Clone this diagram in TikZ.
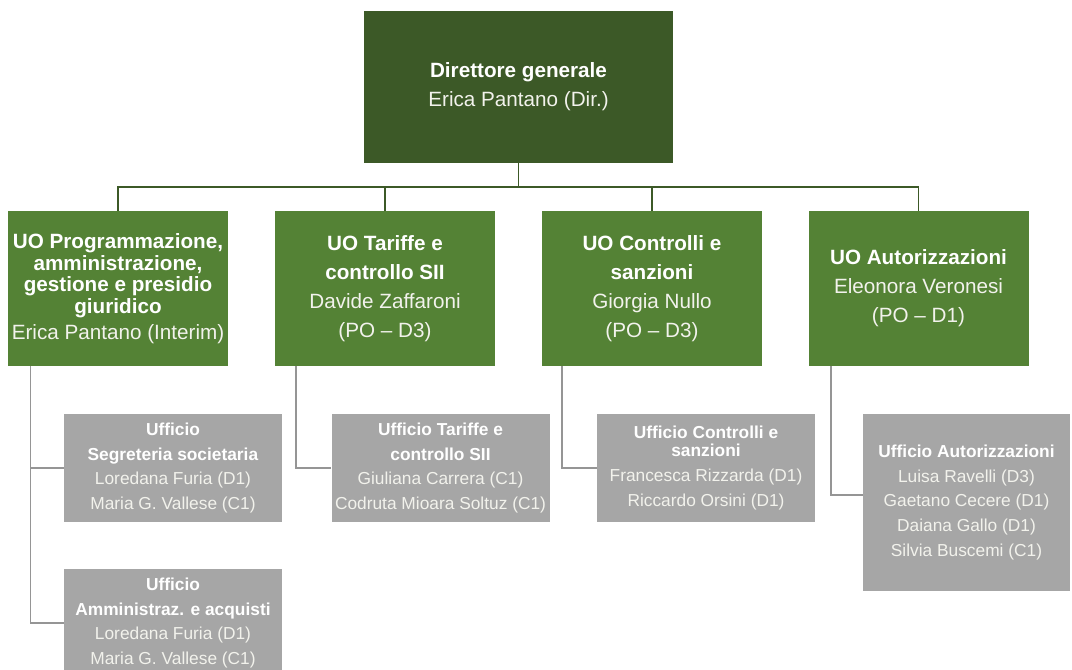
\documentclass[tikz,border=0pt]{standalone}
\usepackage{fontspec}
\setmainfont{Liberation Sans}
\definecolor{dirgreen}{RGB}{60,89,39}
\definecolor{uogreen}{RGB}{84,130,53}
\definecolor{ufgray}{RGB}{166,166,166}
\definecolor{namewhite}{RGB}{242,242,236}

\begin{document}
\begin{tikzpicture}[x=0.75pt,y=-0.75pt]

\tikzset{dirbox/.style = {fill=dirgreen, text=white, align=center, inner sep=0pt,
  minimum width=231.75pt, minimum height=114pt, font=\fontsize{15.5}{21.75}\selectfont}}
\tikzset{uobox/.style = {fill=uogreen, text=white, align=center, inner sep=0pt,
  minimum width=165pt, minimum height=116.25pt, font=\fontsize{15.5}{21.75}\selectfont}}
\tikzset{ufbox/.style = {fill=ufgray, text=white, align=center, inner sep=0pt,
  minimum width=163.5pt, minimum height=81pt, font=\fontsize{13}{18.4}\selectfont}}
\tikzset{greenline/.style = {draw=dirgreen, line width=1.4pt}}
\tikzset{grayline/.style = {draw=ufgray!90!black, line width=1.2pt}}
\newcommand{\nm}[1]{\textcolor{namewhite}{#1}}

\useasboundingbox (0,0) rectangle (1072,670);

%direttore
\node[dirbox] (dir) at (518.5,87) {\textbf{Direttore generale}\\\nm{Erica Pantano (Dir.)}};
%unita' organizzative
\node[uobox, font=\fontsize{15.5}{16.3}\selectfont] (uo1) at (118,288.5)
  {\textbf{UO Programmazione,}\\\textbf{amministrazione,}\\\textbf{gestione e presidio}\\\textbf{giuridico}\\[3pt]\nm{Erica Pantano (Interim)}};
\node[uobox] (uo2) at (385,288.5) {\textbf{UO Tariffe e}\\\textbf{controllo SII}\\\nm{Davide Zaffaroni}\\\nm{(PO -- D3)}};
\node[uobox] (uo3) at (652,288.5) {\textbf{UO Controlli e}\\\textbf{sanzioni}\\\nm{Giorgia Nullo}\\\nm{(PO -- D3)}};
\node[uobox] (uo4) at (918.5,288.5) {\textbf{UO Autorizzazioni}\\\nm{Eleonora Veronesi}\\\nm{(PO -- D1)}};
%uffici
\node[ufbox] (uf1) at (173,468) {\textbf{Ufficio}\\\textbf{Segreteria societaria}\\\nm{Loredana Furia (D1)}\\\nm{Maria G. Vallese (C1)}};
\node[ufbox] (uf5) at (173,623) {\textbf{Ufficio}\\\textbf{Amministraz. e acquisti}\\\nm{Loredana Furia (D1)}\\\nm{Maria G. Vallese (C1)}};
\node[ufbox] (uf2) at (440.5,468) {\textbf{Ufficio Tariffe e}\\\textbf{controllo SII}\\\nm{Giuliana Carrera (C1)}\\\nm{Codruta Mioara Soltuz (C1)}};
\node[ufbox, font=\fontsize{13}{13.5}\selectfont] (uf3) at (706,468)
  {\textbf{Ufficio Controlli e}\\\textbf{sanzioni}\\[5pt]\nm{Francesca Rizzarda (D1)}\\[5pt]\nm{Riccardo Orsini (D1)}};
\node[ufbox, minimum width=155pt, minimum height=132.75pt] (uf4) at (966.5,502.5)
  {\textbf{Ufficio Autorizzazioni}\\\nm{Luisa Ravelli (D3)}\\\nm{Gaetano Cecere (D1)}\\\nm{Daiana Gallo (D1)}\\\nm{Silvia Buscemi (C1)}};

%collegamenti
\draw[greenline] (dir.south) -- ++(0,24) -| (uo1.north);
\draw[greenline] (dir.south) -- ++(0,24) -| (uo2.north);
\draw[greenline] (dir.south) -- ++(0,24) -| (uo3.north);
\draw[greenline] (dir.south) -- ++(0,24) -| (uo4.north);
\draw[grayline] ([xshift=17pt]uo1.south west) |- (uf1.west);
\draw[grayline] ([xshift=17pt]uo1.south west) |- (uf5.west);
\draw[grayline] ([xshift=15.75pt]uo2.south west) |- (uf2.west);
\draw[grayline] ([xshift=15pt]uo3.south west) |- (uf3.west);
\draw[grayline] ([xshift=17.25pt]uo4.south west) |- ([yshift=5.5pt]uf4.west);

\end{tikzpicture}
\end{document}
